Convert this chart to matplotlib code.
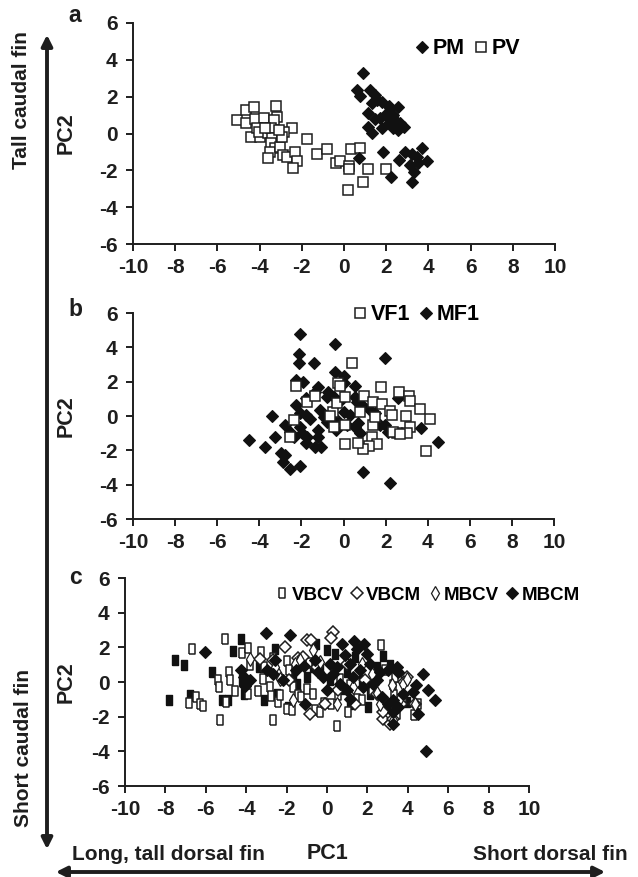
import matplotlib
matplotlib.use('Agg')
import matplotlib.pyplot as plt
from matplotlib.patches import FancyArrowPatch

plt.rcParams['font.family'] = ['Liberation Sans', 'DejaVu Sans']
plt.rcParams['font.weight'] = 'bold'
plt.rcParams['axes.unicode_minus'] = False

# ---- panel a ----
pv_x = [-5.07, -4.65, -4.65, -4.25, -4.21, -3.78, -3.23, -3.18, -3.34, -4.41, -4.13, -4.0, -4.05,
        -3.62, -3.45, -3.39, -3.45, -3.29, -3.50, -3.62, -3.02, -2.90, -2.71, -2.47, -2.86, -2.94,
        -2.31, -2.23, -2.44, -3.10, -1.73, -1.29, -0.81, -0.37, -0.18, 0.26, 0.26, 0.34, 0.77,
        1.16, 0.92, 0.17, 2.0, -3.73]
pv_y = [0.73, 1.27, 0.59, 1.42, 0.77, 0.82, 1.49, 0.88, 0.73, -0.17, 0.28, -0.17, 0.10,
        0.01, 0.28, -0.26, -0.53, -0.80, -0.98, -1.34, -0.71, -1.16, -1.25, 0.28, 0.10, -0.17,
        -0.98, -1.52, -1.89, 0.19, -0.30, -1.13, -0.84, -1.61, -1.52, -1.74, -1.92, -0.84, -0.77,
        -1.94, -2.64, -3.09, -1.94, 0.28]
pm_x = [0.92, 0.61, 0.77, 1.24, 1.48, 1.55, 1.32, 1.79, 2.11, 2.19, 2.58, 1.16, 1.48, 1.71,
        1.95, 2.11, 2.34, 2.42, 2.66, 2.82, 2.50, 2.27, 2.58, 2.34, 1.16, 1.32, 1.79, 2.11,
        1.87, 0.73, 2.23, 2.61, 2.90, 3.24, 3.45, 3.72, 3.95, 3.13, 3.32, 3.21, 3.53]
pm_y = [3.26, 2.36, 2.05, 2.36, 2.08, 1.81, 1.63, 1.72, 1.49, 1.36, 1.42, 1.09, 0.77, 0.82,
        1.00, 0.91, 1.00, 0.73, 0.59, 0.37, 0.37, 0.46, 0.19, 0.28, 0.37, 0.01, 0.28, 0.55,
        -0.98, -1.34, -2.37, -1.43, -0.98, -1.13, -1.25, -0.80, -1.52, -1.70, -2.07, -2.61, -1.61]

# ---- panel b ----
mf1_x = [-2.06, -0.40, 1.98, -2.10, -2.10, -1.39, -2.25, -1.93, -0.40, 0.03, 0.55, 0.0, -1.19,
         -1.34, -1.77, -0.76, -0.79, -0.47, -0.08, 0.55, 0.63, 0.87, 1.26, 1.50, 2.58, -2.25,
         -2.06, -1.77, -1.61, -1.11, -0.95, -0.79, -0.32, 0.0, 0.32, -3.40, -2.77, -3.24, -4.51,
         -3.72, -2.53, -2.09, -2.37, -1.98, -1.77, -1.74, -1.23, -1.19, -1.34, -1.08, -2.96,
         -2.77, -2.88, -2.53, -2.06, -0.35, 0.16, 0.55, 0.79, 0.95, 2.21, 1.74, 1.98, 2.13,
         3.68, 4.51, 0.68]
mf1_y = [4.78, 4.17, 3.40, 3.61, 3.11, 3.07, 2.10, 2.00, 2.58, 2.33, 1.75, 1.90, 1.71,
         1.42, 1.03, 1.42, 1.13, 1.13, 0.97, 1.13, 0.83, 0.64, 0.35, 0.16, 1.03, 0.64,
         0.16, 0.06, -0.19, 0.35, -0.04, -0.33, -0.23, 0.25, 0.06, 0.0, -0.52, -1.20, -1.40,
         -1.83, -0.91, -0.62, -1.20, -1.01, -1.55, -1.20, -1.20, -0.82, -1.79, -1.83, -2.17,
         -2.27, -2.66, -3.11, -2.91, -0.82, -0.52, -0.62, -1.01, -3.24, -3.88, -0.52, -0.52, -0.91,
         -0.72, -1.50, -0.43]
vf1_x = [0.40, -0.24, -0.16, -2.26, -1.74, -1.34, 1.77, 2.66, 3.13, 3.16, 0.98, 1.42, 1.82,
         2.21, 2.29, 2.96, 3.64, 4.11, 3.16, 3.0, 2.56, 2.37, 2.69, 1.42, 1.50, 1.34, 1.58,
         1.19, 0.92, 0.68, 0.08, 3.92, -2.37, -2.56, -0.51, -0.32, 0.08, 0.79, -0.63, 0.08, -0.47]
vf1_y = [3.11, 1.90, 1.75, 1.75, 0.83, 1.17, 1.67, 1.42, 1.17, 0.87, 1.17, 0.83, 0.70,
         0.31, 0.06, 0.0, 0.39, -0.19, -0.62, -0.97, -0.97, -0.91, -1.05, -0.52, -0.04, -1.20, -1.63,
         -1.75, -1.94, -1.59, -1.63, -2.04, -0.23, -1.20, 0.25, 0.74, 1.09, 0.25, 0.0, -0.52, -0.62]

# ---- panel c ----
vbcv_x = [-6.67, -6.82, -6.49, -6.29, -6.16, -5.05, -5.30, -5.41, -5.33, -4.85, -4.80, -4.55,
          -5.02, -4.22, -3.89, -3.81, -3.89, -3.43, -3.27, -3.15, -3.12, -2.82, -2.79, -2.66,
          -2.66, -2.41, -2.33, -2.0, -2.0, -1.72, -1.86, -1.67, -1.42, -1.30, -0.99, -0.59,
          -0.35, -0.15, 0.18, 0.51, 0.56, 1.06, 1.50, 1.72, 2.21, 2.66, 2.87, 3.25, 3.32, 3.45,
          4.32, 4.52, 3.78, 3.37, 0.64, 1.14, -0.68, -0.87]
vbcv_y = [1.88, -1.21, -0.86, -1.29, -1.40, 2.50, -2.17, 0.10, -0.29, 0.58, 0.10, -0.54,
          -1.15, 1.67, 1.98, 0.96, -0.71, -0.54, 1.73, 0.19, 0.86, -0.29, -0.83, -2.21,
          1.40, -1.15, -0.77, 1.21, -1.54, -1.63, 0.67, -0.29, -0.77, -0.86, -0.38, -1.63,
          -1.73, -1.21, -1.25, -2.55, -0.77, -1.73, -0.96, -1.06, -0.44, 2.11, 0.71, -0.19, -0.77, -1.82,
          -1.92, -1.29, -0.86, 0.29, 0.19, -0.19, -0.67, 1.09]
# VBCV points that print as solid squares
vbcv_dark_x = [-7.82, -7.52, -7.08, -6.78, -5.71, -5.21, -4.92, -4.64, -4.26, -4.22, -4.09,
               -3.35, -3.12, -2.57, -2.46, -1.91, -1.50, -1.25, -0.54, -0.97, -0.02, 0.40,
               -0.35, 0.15, 0.81, 1.14, 1.39, 1.72, 2.05, 2.46, 2.79, 3.12, 3.20, 3.94, 0.97,
               2.13, -0.68, -1.67]
vbcv_dark_y = [-1.06, 1.25, 1.0, -0.77, 0.58, -1.02, -1.06, 1.79, 2.50, 0.10, -0.67,
               0.86, -1.06, 1.92, -0.67, -1.44, -0.10, 0.96, 2.21, 0.29, 1.82, 1.63,
               0.67, 0.10, -0.38, -1.25, 1.44, 0.10, -1.44, 0.86, 1.48, 0.96, -1.54, -1.15, 0.58,
               -0.67, 0.86, 0.48]
vbcm_x = [-2.08, -1.01, -0.81, 0.28, 0.18, -0.84, -1.42, -2.66, -3.32, 2.76, 3.12, 2.79, 3.98,
          3.83, 4.36, 3.28, 1.39, 2.46, 1.88, 0.56, 0.97, -0.51, -1.17, -1.86, 3.65, -0.10]
vbcm_y = [2.02, 2.40, 2.44, 2.88, 2.55, -1.82, 1.38, 1.29, 1.34, -2.11, -2.40, -1.73, 0.29,
          0.0, -1.25, -2.11, -1.25, -0.67, 0.10, -0.48, 1.06, 0.86, 1.44, 0.13, -1.25, -1.25]
mbcv_x = [-3.81, -2.41, -2.33, -1.58, -1.34, -0.68, -0.35, 1.72, 2.21, 2.46, 3.20, 3.28, 3.58,
          3.78, 3.94, 4.36, 3.28, 2.62, -1.67, 0.48, 1.30, -2.57]
mbcv_y = [1.34, 0.48, 0.19, 1.06, 1.25, 1.82, 1.15, 1.06, 0.48, -0.63, -0.19, -1.44, -1.06,
          -0.10, 0.19, -1.25, -2.21, -1.25, -1.06, -1.25, -0.29, 0.86]
mbcm_x = [-6.04, -3.02, -1.83, -2.57, -4.26, -4.11, -3.81, -4.06, -2.99, -2.66, -2.19, -1.53,
          -1.14, -1.09, -0.59, -0.43, -0.18, 0.73, 0.89, 1.35, 1.83, 1.96, 1.47, 1.14, 1.63,
          2.13, 2.46, 2.62, 3.04, 3.45, 3.50, 2.71, 3.04, 3.28, 3.25, 3.53, 3.78, 4.24, 4.41,
          4.77, 5.02, 5.35, 4.90, 4.52, 0.31, 0.64, 0.97, 1.30, 1.80, 2.29, 0.15, -0.02, 0.48,
          1.14, 3.28]
mbcm_y = [1.73, 2.82, 2.74, 1.25, 0.67, 0.29, 0.10, -0.25, 0.67, 0.48, 0.13, 0.67,
          0.90, -1.25, 1.25, 0.58, 0.29, 2.21, 1.54, 2.36, 2.21, 1.63, 1.92, 1.06, 0.67,
          1.06, 0.10, 0.58, 0.67, 0.86, 0.58, -0.86, -1.25, -1.73, -2.40, -1.44, -0.67, -0.58, -0.15,
          0.44, -0.48, -1.02, -3.99, -1.82, 0.48, -0.10, -0.48, 0.29, -0.29, -0.10, 1.06, -0.48, 0.86,
          -0.96, -1.06]

x_ticks = [-10, -8, -6, -4, -2, 0, 2, 4, 6, 8, 10]
y_ticks = [-6, -4, -2, 0, 2, 4, 6]

W, H = 638, 877
INK = '#1e1e1e'
fig = plt.figure(figsize=(W / 100, H / 100), dpi=100)


def px(l, t, r, b):
    return [l / W, 1 - b / H, (r - l) / W, (b - t) / H]


def style(ax):
    ax.set_xlim(-10, 10)
    ax.set_ylim(-6, 6)
    ax.set_xticks(x_ticks)
    ax.set_yticks(y_ticks)
    for s in ['top', 'right']:
        ax.spines[s].set_visible(False)
    for s in ['left', 'bottom']:
        ax.spines[s].set_linewidth(1.4)
        ax.spines[s].set_color(INK)
    ax.tick_params(direction='out', length=5, width=1.4, color=INK, labelsize=15)
    ax.tick_params(axis='x', pad=5)
    ax.tick_params(axis='y', pad=6)
    for lab in ax.get_xticklabels() + ax.get_yticklabels():
        lab.set_fontweight('bold')
        lab.set_color(INK)
    ax.set_ylabel('PC2', fontsize=15.5, fontweight='bold', color=INK)
    ax.patch.set_alpha(0)


sq = dict(marker='s', ms=6.5, mfc='white', mec=INK, mew=1.1, ls='none')
dm = dict(marker='D', ms=6.3, mfc='#111111', mec='#111111', mew=0.8, ls='none')
leg_kw = dict(frameon=False, handletextpad=0.05, columnspacing=0.3, handlelength=0.9,
              borderaxespad=0, borderpad=0, prop={'weight': 'bold', 'size': 15.5})

# panel a
ax1 = fig.add_axes(px(133, 23, 555, 244))
style(ax1)
ax1.plot(pv_x, pv_y, label='PV', **sq)
ax1.plot(pm_x, pm_y, label='PM', **dm)
h, l = ax1.get_legend_handles_labels()
ax1.legend([h[1], h[0]], [l[1], l[0]], ncol=2, loc='center left',
           bbox_to_anchor=(412 / W, 1 - 49 / H), bbox_transform=fig.transFigure, **leg_kw)
ax1.yaxis.set_label_coords(-0.133, 0.5)

# panel b
ax2 = fig.add_axes(px(133, 313, 554, 519))
style(ax2)
ax2.plot(mf1_x, mf1_y, label='MF1', **dm)
ax2.plot(vf1_x, vf1_y, label='VF1', **sq)
h, l = ax2.get_legend_handles_labels()
ax2.legend([h[1], h[0]], [l[1], l[0]], ncol=2, loc='center left',
           bbox_to_anchor=(350 / W, 1 - 315 / H), bbox_transform=fig.transFigure, **leg_kw)
ax2.yaxis.set_label_coords(-0.133, 0.5)

# panel c
rect = [(-0.55, -1), (0.55, -1), (0.55, 1), (-0.55, 1), (-0.55, -1)]
ax3 = fig.add_axes(px(125, 578, 529, 786))
style(ax3)
ax3.plot(vbcv_dark_x, vbcv_dark_y, marker=rect, ms=7.5, mfc='#111111', mec='#111111',
         mew=1.0, ls='none')
ax3.plot(vbcv_x, vbcv_y, marker=rect, ms=7.5, mfc='white', mec=INK, mew=1.1,
         ls='none', label='VBCV')
ax3.plot(vbcm_x, vbcm_y, marker='D', ms=6.2, mfc='white', mec=INK, mew=1.1,
         ls='none', label='VBCM')
ax3.plot(mbcv_x, mbcv_y, marker='d', ms=7, mfc='white', mec=INK, mew=0.9,
         ls='none', label='MBCV')
ax3.plot(mbcm_x, mbcm_y, label='MBCM', **dm)
h, l = ax3.get_legend_handles_labels()
leg_c = dict(leg_kw, prop={'weight': 'bold', 'size': 13.5}, columnspacing=0.25)
ax3.legend(h, l, ncol=4, loc='center left',
           bbox_to_anchor=(274 / W, 1 - 595 / H), bbox_transform=fig.transFigure, **leg_c)
ax3.yaxis.set_label_coords(-0.119, 0.5)
ax3.set_xlabel('PC1', fontsize=15.5, fontweight='bold', color=INK)
ax3.xaxis.set_label_coords(0.502, -0.274)

# panel letters
for letter, y in [('a', 15), ('b', 310), ('c', 578)]:
    fig.text(75 / W, 1 - y / H, letter, fontsize=16.5, fontweight='bold', color=INK,
             ha='center', va='center')

# arrows along the edges
fig.patches.append(FancyArrowPatch((47 / W, 1 - 852 / H), (47 / W, 1 - 32 / H),
                                   transform=fig.transFigure, arrowstyle='<|-|>',
                                   mutation_scale=16, lw=2.8, color=INK))
fig.patches.append(FancyArrowPatch((53 / W, 1 - 872 / H), (608 / W, 1 - 872 / H),
                                   transform=fig.transFigure, arrowstyle='<|-|>',
                                   mutation_scale=16, lw=2.8, color=INK))

fig.text(22 / W, 1 - 100 / H, 'Tall caudal fin', rotation=90, fontsize=15,
         fontweight='bold', color=INK, ha='center', va='center')
fig.text(24 / W, 1 - 748 / H, 'Short caudal fin', rotation=90, fontsize=15,
         fontweight='bold', color=INK, ha='center', va='center')
fig.text(72 / W, 1 - 855 / H, 'Long, tall dorsal fin', fontsize=15,
         fontweight='bold', color=INK, ha='left', va='center')
fig.text(628 / W, 1 - 855 / H, 'Short dorsal fin', fontsize=15,
         fontweight='bold', color=INK, ha='right', va='center')

fig.savefig('out.png', dpi=100)
